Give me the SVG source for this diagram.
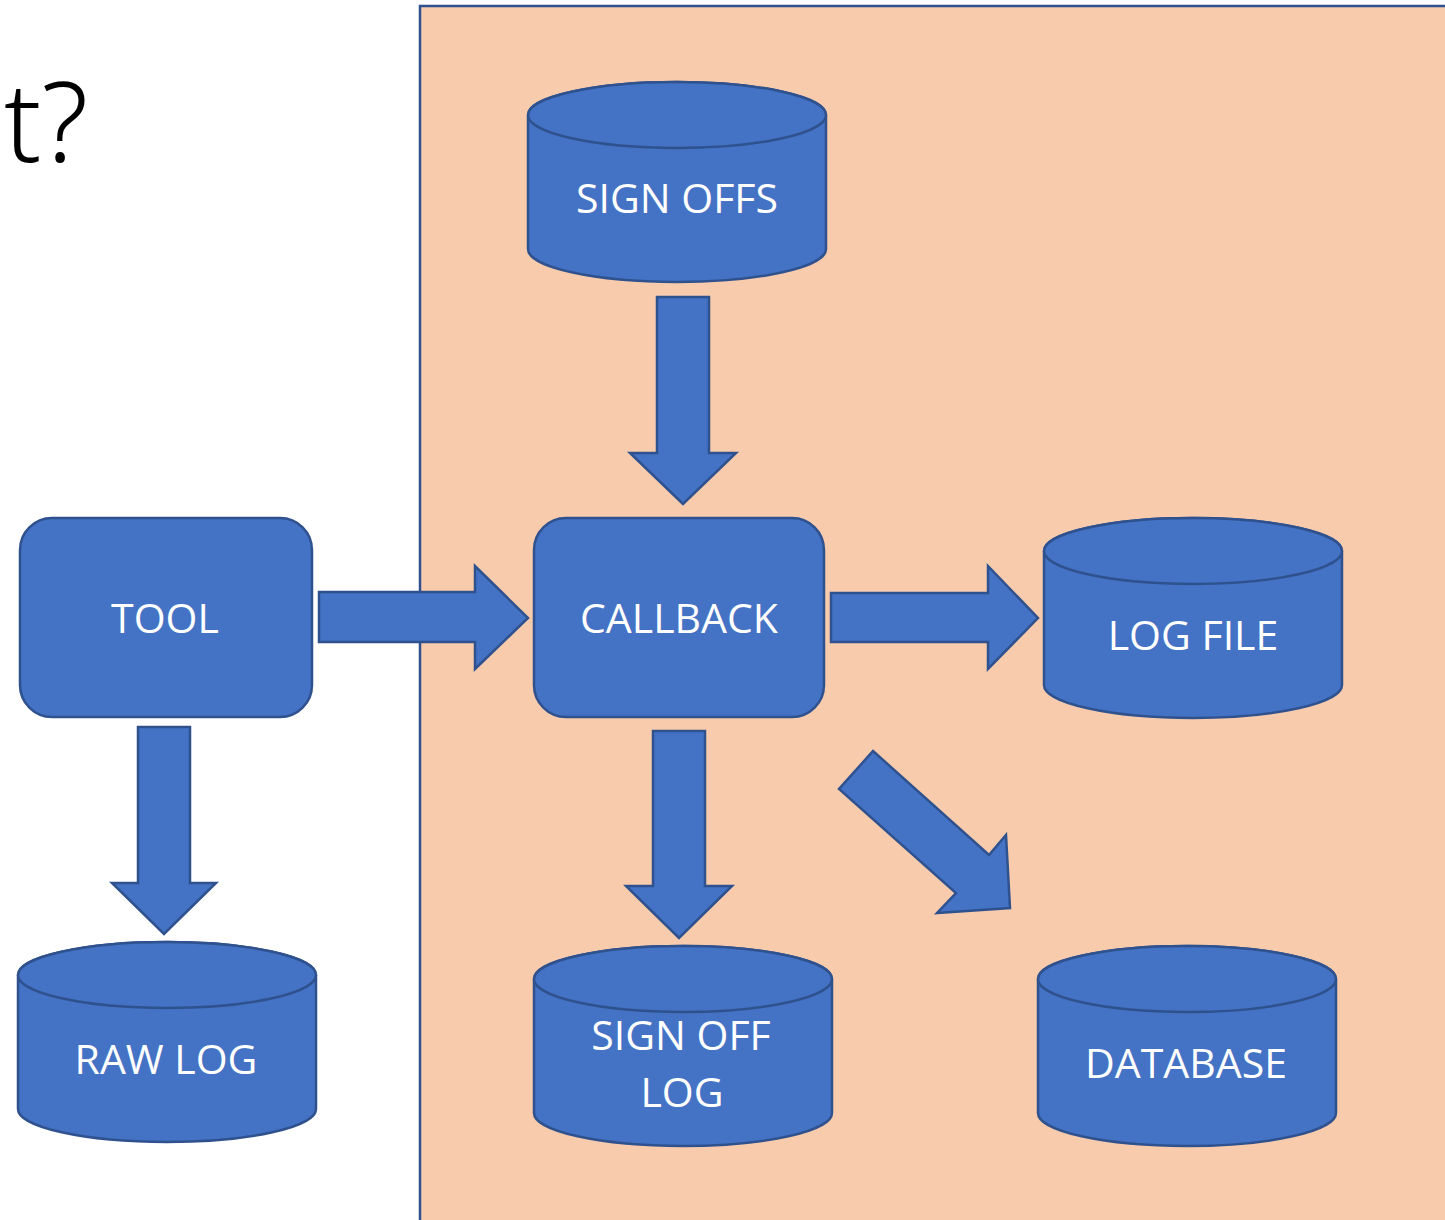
<svg xmlns="http://www.w3.org/2000/svg" width="1445" height="1220" viewBox="0 0 1445 1220">
<style>
.s{fill:#4472C4;stroke:#2F528F;stroke-width:2.5}
.t{fill:#fff;font-family:"Open Sans","Noto Sans",sans-serif;font-size:41px;text-anchor:middle}
</style>
<rect width="1445" height="1220" fill="#fff"/>
<rect id="panel" x="420" y="6" width="1040" height="1230" fill="#F8CBAD" stroke="#2F528F" stroke-width="2.5"/>
<text x="4" y="162" font-family="'Noto Sans','Open Sans',sans-serif" font-weight="300" font-size="110" fill="#000">t?</text>
<g id="connectors">
<polygon class="s" points="319,592 475,592 475,566 528,618 475,669 475,642 319,642"/>
<polygon class="s" points="831,593 988,593 988,566 1038,618 988,669 988,642 831,642"/>
<polygon class="s" points="657,297 709,297 709,453 736,453 683,504 630,453 657,453"/>
<polygon class="s" points="653,731 705,731 705,886 732,886 679,938 626,886 653,886"/>
<polygon class="s" points="138,727 190,727 190,883 216,883 164,934 112,883 138,883"/>
<polygon class="s" points="873,751 989,855 1006,835 1010,908 937,913 956,893 839,789"/>
</g>
<g id="tool"><rect class="s" x="20" y="518" width="292" height="199" rx="32"/><text class="t" x="165" y="633">TOOL</text></g>
<g id="callback"><rect class="s" x="534" y="518" width="290" height="199" rx="32"/><text class="t" x="679" y="633">CALLBACK</text></g>
<g id="signoffs"><path class="s" d="M528,115 A149,33 0 0 1 826,115 L826,249 A149,33 0 0 1 528,249 Z"/><ellipse class="s" cx="677" cy="115" rx="149" ry="33"/><text class="t" x="677" y="213">SIGN OFFS</text></g>
<g id="logfile"><path class="s" d="M1044,551 A149,33 0 0 1 1342,551 L1342,685 A149,33 0 0 1 1044,685 Z"/><ellipse class="s" cx="1193" cy="551" rx="149" ry="33"/><text class="t" x="1193" y="650">LOG FILE</text></g>
<g id="rawlog"><path class="s" d="M18,975 A149,33 0 0 1 316,975 L316,1109 A149,33 0 0 1 18,1109 Z"/><ellipse class="s" cx="167" cy="975" rx="149" ry="33"/><text class="t" x="166" y="1074">RAW LOG</text></g>
<g id="signofflog"><path class="s" d="M534,979 A149,33 0 0 1 832,979 L832,1113 A149,33 0 0 1 534,1113 Z"/><ellipse class="s" cx="683" cy="979" rx="149" ry="33"/><text class="t" x="681" y="1050">SIGN OFF</text><text class="t" x="682" y="1107">LOG</text></g>
<g id="database"><path class="s" d="M1038,979 A149,33 0 0 1 1336,979 L1336,1113 A149,33 0 0 1 1038,1113 Z"/><ellipse class="s" cx="1187" cy="979" rx="149" ry="33"/><text class="t" x="1186" y="1078">DATABASE</text></g>
</svg>
